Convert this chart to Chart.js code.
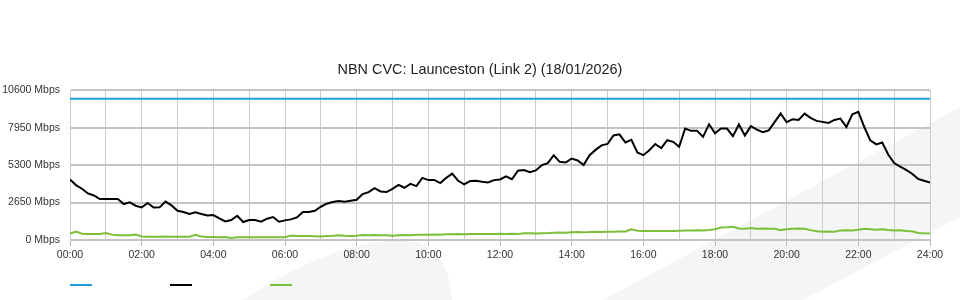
<!DOCTYPE html>
<html>
<head>
<meta charset="utf-8">
<script src="https://cdn.jsdelivr.net/npm/chart.js@4.4.1/dist/chart.umd.min.js"></script>
<style>
  html, body { margin: 0; padding: 0; background: #fff; }
</style>
</head>
<body>
<canvas id="canvas" width="960" height="300"></canvas>
<script>
const title = 'NBN CVC: Launceston (Link 2) (18/01/2026)';

// capacity of the link, flat over the day (minutes since midnight)
const capacityTimes = [0, 1440];
const capacity = [10000, 10000];

// 10 minute samples, 00:00 .. 24:00 (Mbps)
const traffic = [
    4290, 3887, 3627, 3298, 3150, 2897, 2897,
    2897, 2897, 2544, 2662, 2427, 2300,
    2620, 2300, 2310, 2720, 2450, 2073,
    1979, 1837, 1955, 1837, 1743, 1767,
    1531, 1319, 1413, 1720, 1272, 1413,
    1413, 1295, 1508, 1625, 1295, 1390,
    1460, 1602, 1979, 1979, 2073, 2355,
    2568, 2685, 2756, 2709, 2780, 2850,
    3251, 3392, 3675, 3439, 3392, 3627,
    3900, 3698, 3970, 3816, 4400, 4240,
    4250, 4030, 4400, 4700, 4193, 3934,
    4170, 4193, 4123, 4076, 4240, 4287,
    4500, 4300, 4900, 4947, 4806, 4924,
    5300, 5440, 6000, 5536, 5488, 5771,
    5630, 5300, 6000, 6380, 6700, 6800,
    7400, 7480, 6901, 7100, 6200, 6007,
    6360, 6800, 6500, 7066, 6950, 6596,
    7891, 7726, 7726, 7302, 8200, 7550,
    7891, 7891, 7350, 8180, 7400, 8057,
    7820, 7630, 7760, 8363, 8950, 8339,
    8551, 8500, 8950, 8650, 8433, 8363,
    8292, 8500, 8598, 8000, 8900, 9069,
    8000, 7050, 6770, 6900, 6050, 5450,
    5200, 4970, 4690, 4330, 4200, 4076
];

const upload = [
    450, 600, 450, 420, 420, 420, 490,
    380, 330, 330, 340, 380, 250,
    236, 236, 236, 250, 236, 236,
    230, 236, 360, 240, 212, 212,
    200, 212, 141, 188, 188, 190,
    188, 200, 188, 190, 188, 190,
    320, 283, 283, 283, 270, 250,
    290, 300, 330, 300, 290, 300,
    350, 340, 350, 340, 340, 300,
    330, 350, 340, 370, 370, 380,
    390, 380, 400, 400, 420, 410,
    420, 430, 420, 430, 430, 440,
    430, 450, 430, 470, 480, 460,
    480, 490, 520, 530, 520, 550,
    560, 540, 570, 580, 570, 580,
    590, 600, 610, 760, 660, 640,
    630, 640, 640, 630, 640, 660,
    680, 680, 690, 680, 700, 760,
    880, 900, 940, 820, 800, 850,
    800, 820, 790, 800, 700, 760,
    800, 810, 790, 700, 620, 590,
    600, 590, 680, 690, 680, 720,
    800, 760, 720, 760, 700, 680,
    690, 640, 620, 500, 470, 460
];

const yMax = 10600;
const yStep = 2650;

const times = traffic.map((v, i) => i * 10);

function hourLabel(min) {
    return String(min / 60).padStart(2, '0') + ':00';
}

// faint logo shapes behind the plot
const watermark = {
    id: 'watermark',
    beforeDraw(chart) {
        const ctx = chart.ctx;
        ctx.save();
        ctx.fillStyle = '#f4f5f7';
        ctx.beginPath();
        ctx.moveTo(603, 300);
        ctx.lineTo(960, 107);
        ctx.lineTo(960, 217);
        ctx.lineTo(803, 300);
        ctx.closePath();
        ctx.fill();
        ctx.beginPath();
        ctx.moveTo(243, 300);
        ctx.quadraticCurveTo(330, 242, 400, 240);
        ctx.quadraticCurveTo(448, 240, 452, 300);
        ctx.closePath();
        ctx.fill();
        ctx.restore();
    }
};

// title is centred on the whole canvas, not the padded box
const centreTitle = {
    id: 'centreTitle',
    afterLayout(chart) {
        if (chart.titleBlock) {
            chart.titleBlock.left = 0;
            chart.titleBlock.right = chart.width;
        }
    }
};

// legend is just coloured strokes, no text
const lineLegend = {
    id: 'lineLegend',
    afterDraw(chart) {
        const ctx = chart.ctx;
        const left = chart.chartArea.left;
        ctx.save();
        ctx.lineWidth = 2;
        chart.data.datasets.forEach(function (ds, i) {
            ctx.strokeStyle = ds.borderColor;
            ctx.beginPath();
            ctx.moveTo(left + i * 100, 285);
            ctx.lineTo(left + i * 100 + 22, 285);
            ctx.stroke();
        });
        ctx.restore();
    }
};

Chart.defaults.font.family = '"Liberation Sans", Arial, sans-serif';
Chart.defaults.font.size = 10.5;
Chart.defaults.color = '#333';

const config = {
    type: 'line',
    data: {
        datasets: [{
            label: 'Capacity',
            data: capacityTimes.map((t, i) => ({x: t, y: capacity[i]})),
            borderColor: '#1ea0dc',
            borderWidth: 2,
            pointRadius: 0
        }, {
            label: 'Download',
            data: times.map((t, i) => ({x: t, y: traffic[i]})),
            borderColor: '#000000',
            borderWidth: 2,
            pointRadius: 0
        }, {
            label: 'Upload',
            data: times.map((t, i) => ({x: t, y: upload[i]})),
            borderColor: '#7cbf3a',
            borderWidth: 2,
            pointRadius: 0
        }]
    },
    options: {
        responsive: false,
        animation: false,
        layout: {padding: {top: 0, right: 30, bottom: 30, left: 0}},
        plugins: {
            legend: {display: false},
            tooltip: {enabled: false},
            title: {
                display: true,
                text: title,
                color: '#222',
                font: {size: 14.4, weight: 'normal'},
                padding: {top: 61, bottom: 12}
            }
        },
        scales: {
            x: {
                type: 'linear',
                min: 0,
                max: 1440,
                afterFit: function (s) { s.height = 30; },
                ticks: {
                    stepSize: 60,
                    autoSkip: false,
                    maxRotation: 0,
                    padding: 3,
                    callback: v => v % 120 === 0 ? hourLabel(v) : ''
                },
                grid: {
                    color: '#cccccc',
                    lineWidth: 1,
                    tickLength: 6,
                    tickColor: c => (c.tick && c.tick.value % 120 === 0) ? '#bbbbbb' : 'rgba(0,0,0,0)'
                },
                border: {display: false}
            },
            y: {
                min: 0,
                max: yMax,
                afterFit: function (s) { s.width = 70; },
                ticks: {
                    stepSize: yStep,
                    padding: 10,
                    callback: v => v + ' Mbps'
                },
                grid: {color: '#c4c4c4', lineWidth: 2, drawTicks: false},
                border: {color: '#cccccc', width: 1}
            }
        }
    },
    plugins: [watermark, centreTitle, lineLegend]
};

const chart = new Chart(document.getElementById('canvas').getContext('2d'), config);
</script>
</body>
</html>
